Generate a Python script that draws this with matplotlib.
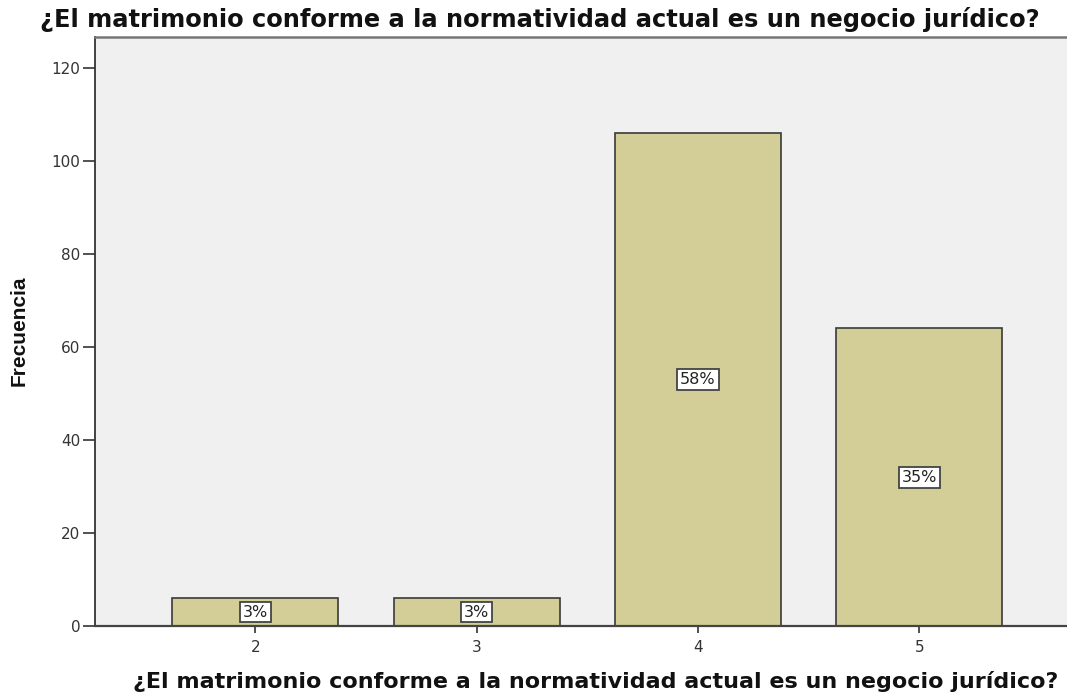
import matplotlib
matplotlib.use("Agg")
import matplotlib.pyplot as plt
from matplotlib import font_manager

categories = [2, 3, 4, 5]
values = [6, 6, 106, 64]
pct_labels = ["3%", "3%", "58%", "35%"]
yticks = [0, 20, 40, 60, 80, 100, 120]
title = "¿El matrimonio conforme a la normatividad actual es un negocio jurídico?"
ylabel = "Frecuencia"

names = {f.name for f in font_manager.fontManager.ttflist}
if "Liberation Sans Narrow" in names:
    ylab_family, ylab_size = "Liberation Sans Narrow", 19
else:
    ylab_family, ylab_size = "Liberation Sans", 15

fig = plt.figure(figsize=(10.67, 6.94), dpi=100)
W, H = 1067, 694
ax = fig.add_axes([95 / W, 1 - 626 / H, (1072 - 95) / W, (626 - 37) / H])
ax.set_facecolor("#F0F0F0")

ax.bar(categories, values, width=0.75, color="#D3CE97", edgecolor="#3a3a3a", linewidth=1.2, zorder=2)
for x, v, lab in zip(categories, values, pct_labels):
    ax.text(x, v / 2, lab, ha="center", va="center", fontsize=11.5, family="DejaVu Sans",
            color="#222222",
            bbox=dict(boxstyle="square,pad=0.18", facecolor="white", edgecolor="#444444", linewidth=1.3),
            zorder=3)

ax.set_xlim(1.276, 5.69)
ax.set_ylim(0, 126.7)
ax.set_xticks(categories)
ax.set_xticklabels([str(c) for c in categories])
ax.set_yticks(yticks)
ax.tick_params(axis="both", direction="out", width=1.2, color="#333333",
               labelsize=11, labelcolor="#333333")
ax.tick_params(axis="y", length=8.5, pad=2)
ax.tick_params(axis="x", length=5, pad=5)
for lab in ax.get_xticklabels() + ax.get_yticklabels():
    lab.set_family("DejaVu Sans")

ax.spines["left"].set_color("#333333")
ax.spines["left"].set_linewidth(1.3)
ax.spines["bottom"].set_color("#444444")
ax.spines["bottom"].set_linewidth(1.6)
ax.spines["top"].set_color("#777777")
ax.spines["top"].set_linewidth(1.8)
ax.spines["right"].set_visible(False)

fig.text(40 / W, 1 - 19 / H, title, ha="left", va="center", fontsize=17.4, fontweight="bold",
         family="DejaVu Sans", color="#111111")
fig.text(596 / W, 1 - 681 / H, title, ha="center", va="center", fontsize=16, fontweight="bold",
         family="DejaVu Sans", color="#111111")
fig.text(19 / W, 1 - 331 / H, ylabel, ha="center", va="center", rotation=90, fontsize=ylab_size,
         fontweight="bold", family=ylab_family, color="#111111")

fig.savefig("out.png", dpi=100, facecolor="white")
